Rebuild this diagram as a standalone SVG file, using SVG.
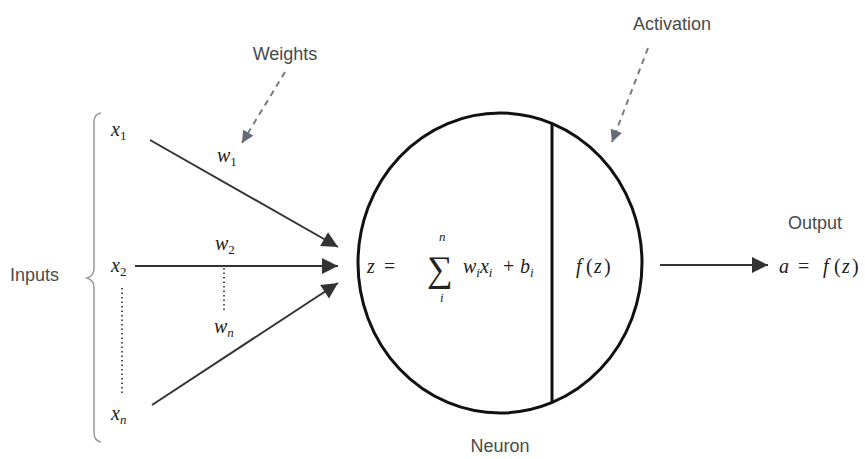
<svg xmlns="http://www.w3.org/2000/svg" width="865" height="459" viewBox="0 0 865 459">
<defs>
<marker id="ahs" viewBox="0 0 10 10" refX="10" refY="5" markerWidth="20" markerHeight="16" markerUnits="userSpaceOnUse" orient="auto"><path d="M0,0 L10,5 L0,10 z" fill="#333"/></marker>
<marker id="ahd" viewBox="0 0 10 10" refX="10" refY="5" markerWidth="14" markerHeight="12" markerUnits="userSpaceOnUse" orient="auto"><path d="M0,0 L10,5 L0,10 z" fill="#666a73"/></marker>
<style>
.lbl{font-family:"Liberation Sans",Arial,sans-serif;font-size:18px;fill:#4a4a4a}
.m{font-family:"Liberation Serif","Times New Roman",serif;font-style:italic;font-size:20px;fill:#222}
.mn{font-family:"Liberation Serif","Times New Roman",serif;font-size:20px;fill:#222}
.up{font-style:normal}
.sub{font-size:13px}
.big{font-size:36px}
.arr{stroke:#333;stroke-width:2;fill:none}
.dash{stroke:#777b84;stroke-width:2;stroke-dasharray:6 5;fill:none}
.dot{stroke:#555;stroke-width:2;stroke-dasharray:1.5 3;fill:none}
</style>
</defs>
<rect width="865" height="459" fill="#fff"/>

<g id="inputs">
<text class="lbl" x="10" y="281">Inputs</text>
<path d="M101,113 Q94,114 94,122 L94,268 Q94,276 87,278 Q94,280 94,288 L94,432 Q94,441 101,442" stroke="#999" stroke-width="1.5" fill="none"/>
<text class="m" x="111" y="136">x<tspan class="sub up" dy="4">1</tspan></text>
<text class="m" x="111" y="272">x<tspan class="sub up" dy="4">2</tspan></text>
<text class="m" x="111" y="420">x<tspan class="sub" dy="4">n</tspan></text>
<line class="dot" x1="122" y1="288" x2="122" y2="394"/>
</g>

<g id="weights">
<text class="lbl" x="285" y="60" text-anchor="middle">Weights</text>
<text class="m" x="217" y="162">w<tspan class="sub up" dy="4">1</tspan></text>
<text class="m" x="215" y="250">w<tspan class="sub up" dy="4">2</tspan></text>
<text class="m" x="214" y="333">w<tspan class="sub" dy="4">n</tspan></text>
<line class="dot" x1="224" y1="268" x2="224" y2="312"/>
</g>

<g id="neuron">
<ellipse cx="500" cy="263" rx="142" ry="150" fill="none" stroke="#111" stroke-width="3"/>
<line x1="552" y1="123" x2="552" y2="403" stroke="#111" stroke-width="3"/>
<text class="m" x="367" y="273">z</text>
<text class="mn" x="384" y="273">=</text>
<text class="mn big" x="427" y="281">∑</text>
<text class="m sub" x="439" y="241">n</text>
<text class="m sub" x="440" y="302">i</text>
<text class="m" x="463" y="273">w<tspan class="sub" dy="4">i</tspan><tspan dy="-4">x</tspan><tspan class="sub" dy="4">i</tspan></text>
<text class="mn" x="503" y="273">+</text>
<text class="m" x="520" y="273">b<tspan class="sub" dy="4">i</tspan></text>
<text class="m" x="576" y="273">f<tspan class="up" x="586">(</tspan><tspan x="594">z</tspan><tspan class="up" x="604">)</tspan></text>
<text class="lbl" x="500" y="452" text-anchor="middle">Neuron</text>
</g>

<g id="activation">
<text class="lbl" x="672" y="30" text-anchor="middle">Activation</text>
</g>

<g id="output">
<text class="lbl" x="815" y="229" text-anchor="middle">Output</text>
<text class="m" x="779" y="273">a<tspan class="up" x="798">=</tspan><tspan x="823">f</tspan><tspan class="up" x="834">(</tspan><tspan x="842">z</tspan><tspan class="up" x="852">)</tspan></text>
</g>

<g id="connectors">
<line class="arr" x1="150" y1="140" x2="338" y2="247" marker-end="url(#ahs)"/>
<line class="arr" x1="135" y1="266" x2="338" y2="266" marker-end="url(#ahs)"/>
<line class="arr" x1="152" y1="405" x2="338" y2="283" marker-end="url(#ahs)"/>
<line class="arr" x1="660" y1="265" x2="768" y2="265" marker-end="url(#ahs)"/>
<line class="dash" x1="285" y1="72" x2="242" y2="143" marker-end="url(#ahd)"/>
<line class="dash" x1="648" y1="48" x2="612" y2="142" marker-end="url(#ahd)"/>
</g>
</svg>
